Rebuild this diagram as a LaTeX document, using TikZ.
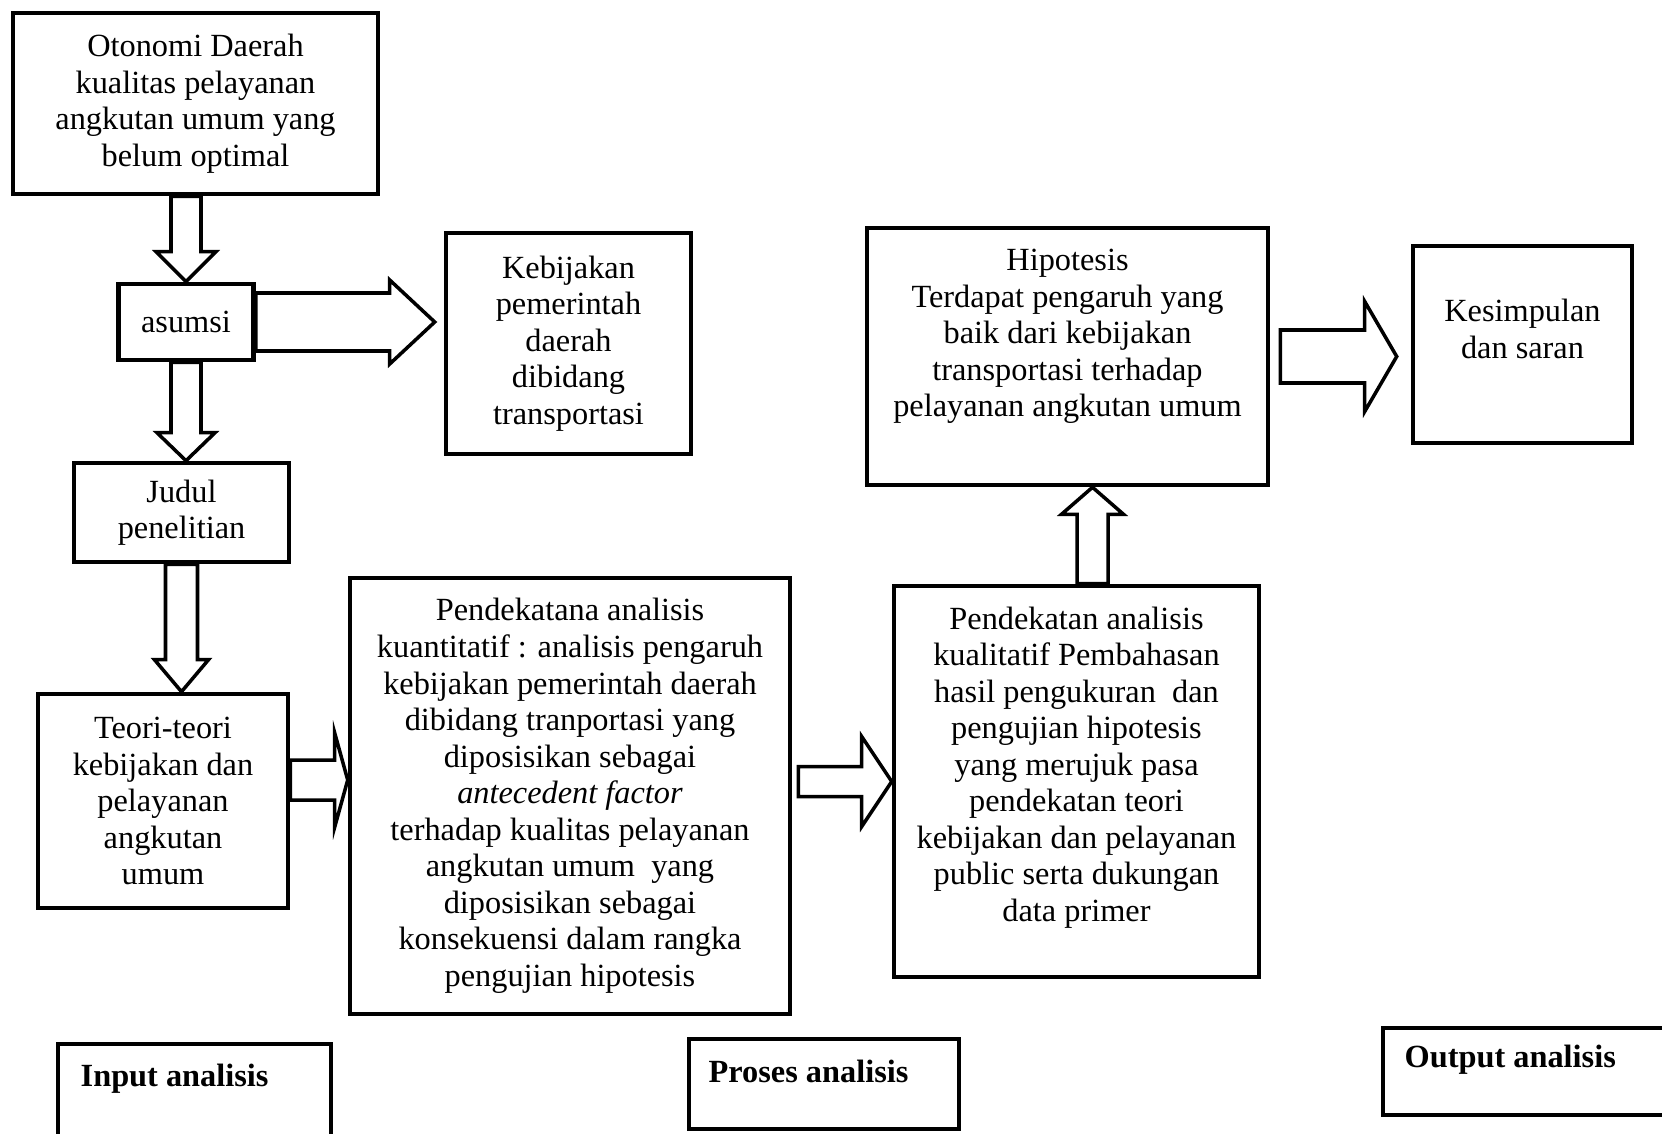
\documentclass[tikz,border=0pt]{standalone}
\usepackage{fontspec}
\setmainfont{Liberation Serif}
\usetikzlibrary{calc}

% hollow block arrow from #1 to #2: shaft half-width, head half-width, head length
\newcommand{\blockarrow}[5]{%
  \draw[blk] let \p1=($(#2)-(#1)$), \n1={veclen(\x1,\y1)}, \n2={atan2(\y1,\x1)} in
    [shift={(#1)}, rotate=\n2]
    (0pt,-#3) -- ({\n1-#5},-#3) -- ({\n1-#5},-#4) -- (\n1,0pt)
    -- ({\n1-#5},#4) -- ({\n1-#5},#3) -- (0pt,#3) -- cycle;}

\begin{document}
\begin{tikzpicture}[
  x=1cm, y=1cm,
  every node/.style={font=\fontsize{9.2}{10.4}\selectfont},
  box/.style={draw=black, line width=1.3pt, align=center, inner sep=2pt},
  blk/.style={draw=black, line width=1pt, line join=miter},
  frm/.style={draw=black, line width=1pt},
  leg/.style={font=\fontsize{9.2}{10.4}\selectfont\bfseries, anchor=west, inner sep=0pt}
]
\useasboundingbox (0,0) rectangle (16.62,-11.34);

\node[box, minimum width=3.65cm, minimum height=1.81cm] (oto) at (1.955,-1.035)
  {Otonomi Daerah\\kualitas pelayanan\\angkutan umum yang\\belum optimal};
\node[box, minimum width=1.35cm, minimum height=0.76cm] (asumsi) at (1.86,-3.22) {asumsi};
\node[box, minimum width=2.45cm, minimum height=2.21cm] (keb) at (5.685,-3.435)
  {Kebijakan\\pemerintah\\daerah\\dibidang\\transportasi};
\node[box, minimum width=2.15cm, minimum height=0.99cm] (judul) at (1.815,-5.125)
  {Judul\\penelitian};
\node[box, minimum width=2.50cm, minimum height=2.14cm] (teori) at (1.63,-8.01)
  {Teori-teori\\kebijakan dan\\pelayanan\\angkutan\\umum};
\node[box, minimum width=4.40cm, minimum height=4.36cm] (pkuan) at (5.70,-7.96)
  {Pendekatana analisis\\kuantitatif : analisis pengaruh\\kebijakan pemerintah daerah\\dibidang tranportasi yang\\diposisikan sebagai\\\textit{antecedent factor}\\terhadap kualitas pelayanan\\angkutan umum~ yang\\diposisikan sebagai\\konsekuensi dalam rangka\\pengujian hipotesis};
\node[box, minimum width=3.65cm, minimum height=3.91cm, text depth=0.35cm] (pkual) at (10.765,-7.815)
  {Pendekatan analisis\\kualitatif Pembahasan\\hasil pengukuran~ dan\\pengujian hipotesis\\yang merujuk pasa\\pendekatan teori\\kebijakan dan pelayanan\\public serta dukungan\\data primer};
\node[box, minimum width=4.01cm, minimum height=2.57cm, text depth=0.47cm] (hipo) at (10.675,-3.565)
  {Hipotesis\\Terdapat pengaruh yang\\baik dari kebijakan\\transportasi terhadap\\pelayanan angkutan umum};
\node[box, minimum width=2.19cm, minimum height=1.97cm, text depth=0.31cm] (kesim) at (15.225,-3.445)
  {Kesimpulan\\dan saran};

% arrow ends
\coordinate (a4e) at ($(keb.west |- asumsi.east)+(-0.09,0)$);
\coordinate (t2) at ($(teori.east)+(0,0.21)$);
\coordinate (k1) at ($(pkuan.east |- pkual.west)+(0.06,0)$);
\coordinate (h1) at ($(pkual.north)+(0.16,0)$);
\coordinate (h2) at ($(hipo.east)+(0.10,0)$);
\coordinate (h3) at ($(kesim.west |- hipo.east)+(-0.14,0)$);

\blockarrow{asumsi.north |- oto.south}{asumsi.north}{0.15cm}{0.30cm}{0.30cm}
\blockarrow{asumsi.south}{asumsi.south |- judul.north}{0.15cm}{0.29cm}{0.28cm}
\blockarrow{judul.south}{judul.south |- teori.north}{0.16cm}{0.27cm}{0.32cm}
\blockarrow{asumsi.east}{a4e}{0.29cm}{0.42cm}{0.45cm}
\blockarrow{t2}{pkuan.west |- t2}{0.20cm}{0.47cm}{0.13cm}
\blockarrow{k1}{pkual.west}{0.15cm}{0.45cm}{0.30cm}
\blockarrow{h1}{h1 |- hipo.south}{0.155cm}{0.31cm}{0.27cm}
\blockarrow{h2}{h3}{0.265cm}{0.55cm}{0.32cm}

% legend frames
\draw[frm] (0.58,-11.34) |- (3.31,-10.44) -- (3.31,-11.34);
\draw[frm] (6.89,-10.39) rectangle (9.59,-11.29);
\draw[frm] (16.62,-10.28) -| (13.83,-11.15) -- (16.62,-11.15);
\node[leg] (inlbl) at (0.80,-10.79) {Input analisis};
\node[leg] (prlbl) at (7.08,-10.71) {Proses analisis};
\node[leg] (outlbl) at (14.04,-10.60) {Output analisis};

\end{tikzpicture}
\end{document}
